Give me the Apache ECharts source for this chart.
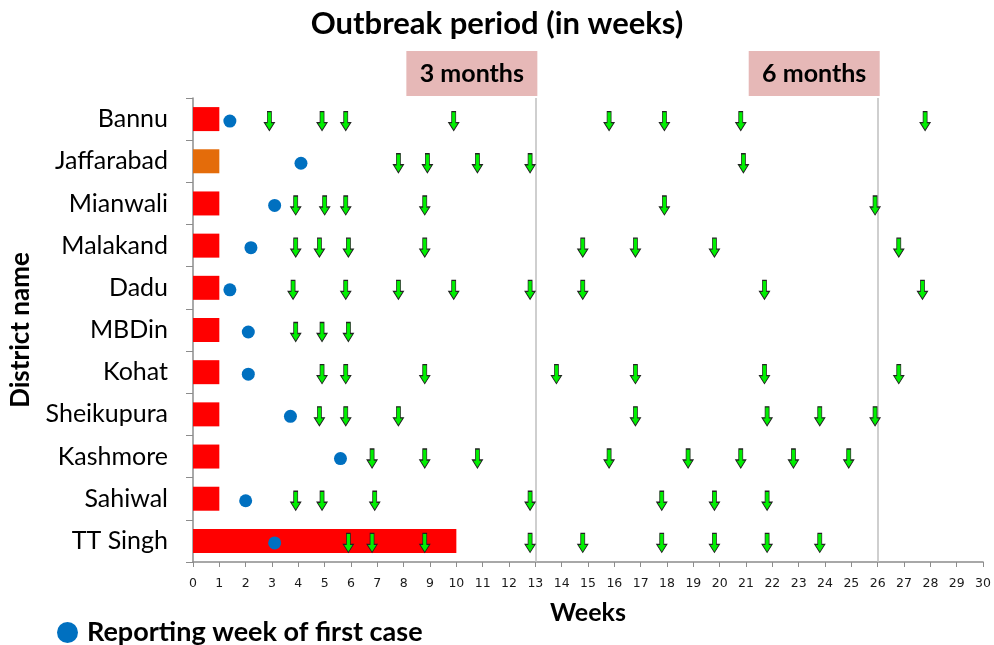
<!DOCTYPE html>
<html>
<head>
<meta charset="utf-8">
<script src="https://cdn.jsdelivr.net/npm/echarts@6/dist/echarts.min.js"></script>
<style>
  html, body { margin: 0; padding: 0; background: #fff; }
  #chart { width: 994px; height: 645px; }
</style>
</head>
<body>
<div id="chart"></div>
<script>
// Districts, top to bottom
const districts = ['Bannu', 'Jaffarabad', 'Mianwali', 'Malakand', 'Dadu', 'MBDin',
  'Kohat', 'Sheikupura', 'Kashmore', 'Sahiwal', 'TT Singh'];

// Length of the initial period bar (weeks)
const initialWeeks = [1, 1, 1, 1, 1, 1, 1, 1, 1, 1, 10];
const barColors = ['#FF0000', '#E46C0A', '#FF0000', '#FF0000', '#FF0000', '#FF0000',
  '#FF0000', '#FF0000', '#FF0000', '#FF0000', '#FF0000'];

// Reporting week of first case
const firstCaseWeek = [1.4, 4.1, 3.1, 2.2, 1.4, 2.1, 2.1, 3.7, 5.6, 2.0, 3.1];

// Weeks marked with an arrow, per district
const arrowWeeks = [
  [2.9, 4.9, 5.8, 9.9, 15.8, 17.9, 20.8, 27.8],
  [7.8, 8.9, 10.8, 12.8, 20.9],
  [3.9, 5.0, 5.8, 8.8, 17.9, 25.9],
  [3.9, 4.8, 5.9, 8.8, 14.8, 16.8, 19.8, 26.8],
  [3.8, 5.8, 7.8, 9.9, 12.8, 14.8, 21.7, 27.7],
  [3.9, 4.9, 5.9],
  [4.9, 5.8, 8.8, 13.8, 16.8, 21.7, 26.8],
  [4.8, 5.8, 7.8, 16.8, 21.8, 23.8, 25.9],
  [6.8, 8.8, 10.8, 15.8, 18.8, 20.8, 22.8, 24.9],
  [3.9, 4.9, 6.9, 12.8, 17.8, 19.8, 21.8],
  [5.9, 6.8, 8.8, 12.8, 14.8, 17.8, 19.8, 21.8, 23.8]
];

// Milestone reference weeks and their labels
const milestoneWeeks = [13, 26];
const milestoneLabels = ['3 months', '6 months'];

const FONT = 'Lato, "Open Sans", sans-serif';

const arrowData = [];
arrowWeeks.forEach((weeks, i) => {
  weeks.forEach(w => arrowData.push([w, districts[i]]));
});

const chart = echarts.init(document.getElementById('chart'), null, { renderer: 'canvas' });

chart.setOption({
  animation: false,
  backgroundColor: '#fff',
  title: {
    text: 'Outbreak period (in weeks)',
    left: 'center',
    top: 3,
    textStyle: { fontFamily: FONT, fontWeight: 'bold', fontSize: 31, color: '#000' }
  },
  legend: {
    data: [{ name: 'Reporting week of first case', icon: 'circle' }],
    left: 52,
    top: 614,
    itemWidth: 21,
    itemHeight: 21,
    textStyle: { fontFamily: FONT, fontWeight: 'bold', fontSize: 27, color: '#000', padding: [0, 0, 0, 4] }
  },
  grid: { left: 193, right: 8, top: 98, bottom: 83 },
  xAxis: {
    type: 'value',
    min: 0,
    max: 30,
    interval: 1,
    name: 'Weeks',
    nameLocation: 'middle',
    nameGap: 38,
    nameTextStyle: { fontFamily: FONT, fontWeight: 'bold', fontSize: 25, color: '#000' },
    splitLine: { show: false },
    axisLine: { show: true, lineStyle: { color: '#8C8C8C', width: 1.5 } },
    axisTick: { show: true, length: 5, lineStyle: { color: '#8C8C8C' } },
    axisLabel: { fontFamily: '"DejaVu Sans", Verdana, sans-serif', fontSize: 12.5, color: '#1a1a1a', margin: 15 }
  },
  yAxis: {
    type: 'category',
    data: districts,
    inverse: true,
    name: 'District name',
    nameLocation: 'middle',
    nameGap: 159,
    nameRotate: 90,
    nameTextStyle: { fontFamily: FONT, fontWeight: 'bold', fontSize: 26, color: '#000' },
    axisLine: { show: true, lineStyle: { color: '#8C8C8C', width: 1.5 } },
    axisTick: { show: true, length: 7, lineStyle: { color: '#8C8C8C' } },
    axisLabel: { fontFamily: FONT, fontSize: 25, color: '#000', margin: 25 }
  },
  series: [
    {
      name: 'Initial period',
      type: 'bar',
      barWidth: 24,
      data: initialWeeks.map((v, i) => ({ value: v, itemStyle: { color: barColors[i] } })),
      z: 2,
      markLine: {
        silent: true,
        symbol: 'none',
        label: { show: false },
        lineStyle: { color: '#BFBFBF', width: 1.5, type: 'solid' },
        data: milestoneWeeks.map(w => ({ xAxis: w }))
      }
    },
    {
      name: 'Reporting week of first case',
      type: 'scatter',
      symbol: 'circle',
      symbolSize: 13,
      symbolOffset: [0, 2],
      itemStyle: { color: '#0070C0', opacity: 1 },
      data: firstCaseWeek.map((w, i) => [w, districts[i]]),
      z: 4
    },
    {
      name: 'Marked weeks',
      type: 'scatter',
      symbol: 'path://M3,0H7V11H10L5,19L0,11H3Z',
      symbolSize: [10, 19],
      symbolOffset: [0, 2],
      itemStyle: { color: '#00F000', borderColor: '#222', borderWidth: 1, opacity: 1 },
      data: arrowData,
      z: 5
    },
    {
      name: 'Milestones',
      type: 'custom',
      clip: false,
      silent: true,
      z: 6,
      data: milestoneWeeks.map(w => [w, 0]),
      renderItem(params, api) {
        const x = api.coord([api.value(0), 0])[0];
        const top = params.coordSys.y;
        const w = 131, h = 45;
        return {
          type: 'group',
          children: [
            {
              type: 'rect',
              shape: { x: x + 2 - w, y: top - h - 2, width: w, height: h },
              style: { fill: '#E6B8B7' }
            },
            {
              type: 'text',
              style: {
                text: milestoneLabels[params.dataIndex],
                x: x + 2 - w / 2,
                y: top - h / 2 - 2,
                align: 'center',
                verticalAlign: 'middle',
                fontFamily: FONT,
                fontWeight: 'bold',
                fontSize: 25,
                fill: '#000'
              }
            }
          ]
        };
      }
    }
  ]
});
</script>
</body>
</html>
